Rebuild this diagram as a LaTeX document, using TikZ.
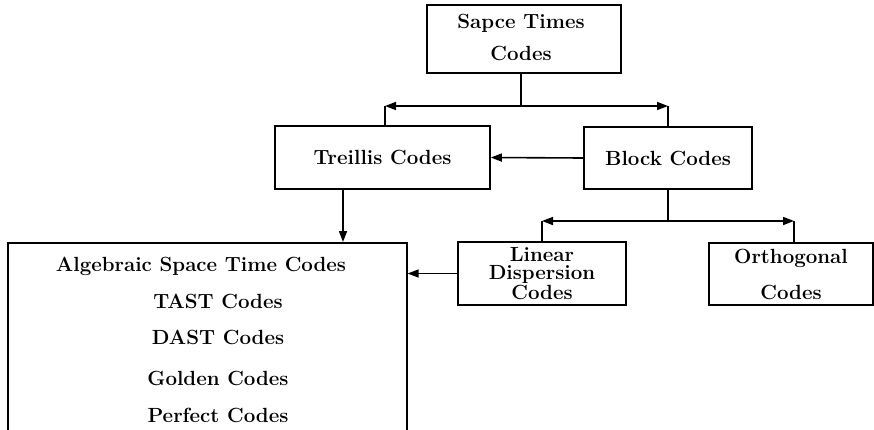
\documentclass[tikz,border=0pt]{standalone}
\usetikzlibrary{arrows.meta}
\begin{document}
\begin{tikzpicture}[x=1pt,y=-1pt,
  box/.style={draw, line width=1.6pt, align=center, inner sep=0pt,
    font=\bfseries\fontsize{20.5}{32}\selectfont},
  label/.style={inner sep=0pt, font=\bfseries\fontsize{20.5}{24}\selectfont},
  conn/.style={line width=1.6pt},
  arr/.style={conn, -{Triangle[length=11pt,width=8pt]}}]
  \useasboundingbox (0,0) rectangle (874,429);
  \clip (0,0) rectangle (874,429);

  % boxes
  \node[box, minimum width=194pt, minimum height=68pt] (top) at (524,39) {};
  \node[box, draw=none, minimum width=194pt, minimum height=68pt] (toptext) at (521,37) {Sapce Times\\Codes};
  \node[box, minimum width=215pt, minimum height=63pt] (treillis) at (382.5,157.5) {Treillis Codes};
  \node[box, minimum width=168pt, minimum height=62pt] (block) at (668,158) {Block Codes};
  \node[box, minimum width=168pt, minimum height=63pt,
        font=\bfseries\fontsize{20.5}{18}\selectfont] (linear) at (542,273.5) {Linear\\Dispersion\\Codes};
  \node[box, minimum width=164pt, minimum height=62pt,
        font=\bfseries\fontsize{20.5}{36}\selectfont] (ortho) at (791,274) {Orthogonal\\Codes};
  \node[box, minimum width=399pt, minimum height=260pt, anchor=north west] (asp) at (7,242) {};

  % contents of the algebraic box
  \node[label] (l1) at (201,266) {Algebraic Space Time Codes};
  \node[label] (l2) at (218,301) {TAST Codes};
  \node[label] (l3) at (218,337) {DAST Codes};
  \node[label] (l4) at (218,378) {Golden Codes};
  \node[label] (l5) at (218,415) {Perfect Codes};

  % junction points
  \coordinate (j1) at (521,106);
  \coordinate (c1l) at (385,106);
  \coordinate (c1r) at (668,106);
  \coordinate (j2) at (668,221);
  \coordinate (c2l) at (542,221);
  \coordinate (c2r) at (794,221);

  % connectors from the top box
  \draw[conn] (top.south -| j1) -- (j1);
  \draw[arr] (j1) -- (c1l);
  \draw[arr] (j1) -- (c1r);
  \draw[conn] (c1l) -- (treillis.north -| c1l);
  \draw[conn] (c1r) -- (block.north -| c1r);

  % block codes to treillis codes
  \draw[arr] (block.west) -- (treillis.east);

  % treillis codes down to the algebraic box
  \draw[arr] (treillis.south -| 343,0) -- (asp.north -| 343,0);

  % connectors from the block box
  \draw[conn] (block.south -| j2) -- (j2);
  \draw[arr] (j2) -- (c2l);
  \draw[arr] (j2) -- (c2r);
  \draw[conn] (c2l) -- (linear.north -| c2l);
  \draw[conn] (c2r) -- (ortho.north -| c2r);

  % linear dispersion codes to the algebraic box
  \draw[arr] (linear.west) -- (asp.east |- linear.west);
\end{tikzpicture}
\end{document}
